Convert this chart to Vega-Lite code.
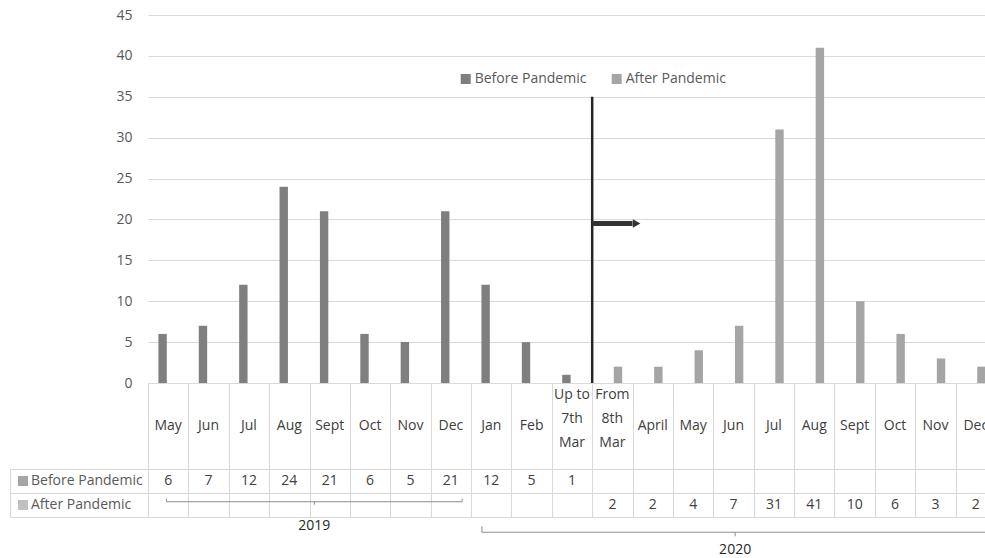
{
  "$schema": "https://vega.github.io/schema/vega-lite/v6.json",
  "background": "white",
  "padding": {"left": 9, "top": 8, "right": 0, "bottom": 0},
  "bounds": "flush",
  "spacing": 0,
  "config": {
    "view": {"stroke": null},
    "font": "Open Sans"
  },
  "data": {
    "values": [
      {"period": "2019-05", "label": "May", "series": "Before Pandemic", "value": 6},
      {"period": "2019-06", "label": "Jun", "series": "Before Pandemic", "value": 7},
      {"period": "2019-07", "label": "Jul", "series": "Before Pandemic", "value": 12},
      {"period": "2019-08", "label": "Aug", "series": "Before Pandemic", "value": 24},
      {"period": "2019-09", "label": "Sept", "series": "Before Pandemic", "value": 21},
      {"period": "2019-10", "label": "Oct", "series": "Before Pandemic", "value": 6},
      {"period": "2019-11", "label": "Nov", "series": "Before Pandemic", "value": 5},
      {"period": "2019-12", "label": "Dec", "series": "Before Pandemic", "value": 21},
      {"period": "2020-01", "label": "Jan", "series": "Before Pandemic", "value": 12},
      {"period": "2020-02", "label": "Feb", "series": "Before Pandemic", "value": 5},
      {"period": "2020-03a", "label": "Up to\n7th\nMar", "series": "Before Pandemic", "value": 1},
      {"period": "2020-03b", "label": "From\n8th\nMar", "series": "After Pandemic", "value": 2},
      {"period": "2020-04", "label": "April", "series": "After Pandemic", "value": 2},
      {"period": "2020-05", "label": "May", "series": "After Pandemic", "value": 4},
      {"period": "2020-06", "label": "Jun", "series": "After Pandemic", "value": 7},
      {"period": "2020-07", "label": "Jul", "series": "After Pandemic", "value": 31},
      {"period": "2020-08", "label": "Aug", "series": "After Pandemic", "value": 41},
      {"period": "2020-09", "label": "Sept", "series": "After Pandemic", "value": 10},
      {"period": "2020-10", "label": "Oct", "series": "After Pandemic", "value": 6},
      {"period": "2020-11", "label": "Nov", "series": "After Pandemic", "value": 3},
      {"period": "2020-12", "label": "Dec", "series": "After Pandemic", "value": 2}
    ]
  },
  "resolve": {
    "scale": {"color": "independent", "fill": "independent"},
    "legend": {"color": "independent", "fill": "independent"}
  },
  "vconcat": [
    {
      "width": 848,
      "height": 368,
      "layer": [
        {
          "mark": {"type": "bar"},
          "encoding": {
            "x": {
              "field": "period", "type": "nominal",
              "scale": {"domain": ["2019-05","2019-06","2019-07","2019-08","2019-09","2019-10","2019-11","2019-12","2020-01","2020-02","2020-03a","2020-03b","2020-04","2020-05","2020-06","2020-07","2020-08","2020-09","2020-10","2020-11","2020-12"], "paddingInner": 0, "paddingOuter": 0},
              "axis": null
            },
            "xOffset": {
              "field": "series", "type": "nominal",
              "scale": {"domain": ["Before Pandemic", "After Pandemic"], "paddingInner": 0.25, "paddingOuter": 0.927}
            },
            "y": {
              "field": "value", "type": "quantitative",
              "scale": {"domain": [0, 45], "nice": false},
              "axis": {
                "values": [0, 5, 10, 15, 20, 25, 30, 35, 40, 45],
                "grid": true, "gridColor": "#d9d9d9", "gridWidth": 1,
                "domain": false, "ticks": false,
                "labelPadding": 16, "labelFontSize": 14, "labelColor": "#595959",
                "title": null
              }
            },
            "color": {
              "field": "series", "type": "nominal",
              "scale": {"domain": ["Before Pandemic", "After Pandemic"], "range": ["#7f7f7f", "#a5a5a5"]},
              "legend": {
                "title": null, "orient": "none", "direction": "horizontal",
                "legendX": 310.7, "legendY": 57,
                "symbolType": "square", "symbolSize": 100, "symbolStrokeWidth": 0,
                "labelFontSize": 14, "labelColor": "#595959",
                "labelOffset": 2, "columnPadding": 23, "padding": 0
              }
            }
          }
        },
        {
          "data": {"values": [{"marker": "8 March 2020"}]},
          "mark": {"type": "rule", "color": "#262626", "strokeWidth": 2.5},
          "encoding": {
            "x": {"datum": "2020-03b", "type": "nominal", "bandPosition": 0},
            "y": {"datum": 35, "type": "quantitative"},
            "y2": {"datum": 0}
          }
        },
        {
          "data": {"values": [{"marker": "8 March 2020"}]},
          "mark": {"type": "rule", "color": "#333333", "strokeWidth": 5},
          "encoding": {
            "x": {"datum": "2020-03b", "type": "nominal", "bandPosition": 0},
            "x2": {"datum": "2020-04", "bandPosition": 0},
            "y": {"datum": 19.5, "type": "quantitative"}
          }
        },
        {
          "data": {"values": [{"marker": "8 March 2020"}]},
          "mark": {"type": "point", "shape": "triangle-right", "filled": true, "color": "#333333", "opacity": 1, "size": 75},
          "encoding": {
            "x": {"datum": "2020-04", "type": "nominal", "bandPosition": 0.1},
            "y": {"datum": 19.5, "type": "quantitative"}
          }
        }
      ]
    },
    {
      "width": 848,
      "height": 86,
      "encoding": {
        "x": {
          "field": "period", "type": "nominal",
          "scale": {"type": "band", "domain": ["2019-05","2019-06","2019-07","2019-08","2019-09","2019-10","2019-11","2019-12","2020-01","2020-02","2020-03a","2020-03b","2020-04","2020-05","2020-06","2020-07","2020-08","2020-09","2020-10","2020-11","2020-12"], "paddingInner": 0, "paddingOuter": 0},
          "axis": {"grid": true, "tickBand": "extent", "gridColor": "#d9d9d9", "labels": false, "ticks": false, "domain": false, "title": null}
        }
      },
      "layer": [
        {
          "transform": [{"filter": "indexof(datum.label, '\\n') < 0"}],
          "mark": {"type": "text", "fontSize": 14, "color": "#404040", "baseline": "middle"},
          "encoding": {"text": {"field": "label"}}
        },
        {
          "transform": [{"filter": "indexof(datum.label, '\\n') >= 0"}],
          "mark": {"type": "text", "fontSize": 14, "color": "#404040", "baseline": "middle", "lineBreak": "\n", "lineHeight": 24, "dy": -31},
          "encoding": {"text": {"field": "label"}}
        }
      ]
    },
    {
      "width": 848,
      "height": 48,
      "encoding": {
        "x": {
          "field": "period", "type": "nominal",
          "scale": {"type": "band", "domain": ["2019-05","2019-06","2019-07","2019-08","2019-09","2019-10","2019-11","2019-12","2020-01","2020-02","2020-03a","2020-03b","2020-04","2020-05","2020-06","2020-07","2020-08","2020-09","2020-10","2020-11","2020-12"], "paddingInner": 0, "paddingOuter": 0},
          "axis": {"grid": true, "tickBand": "extent", "gridColor": "#d9d9d9", "labels": false, "ticks": false, "domain": false, "title": null}
        },
        "y": {
          "field": "series", "type": "nominal",
          "scale": {"type": "band", "domain": ["Before Pandemic", "After Pandemic"], "paddingInner": 0, "paddingOuter": 0},
          "axis": {
            "offset": 138, "tickSize": -138, "tickBand": "extent",
            "grid": true, "gridColor": "#d9d9d9", "tickColor": "#d9d9d9", "domainColor": "#d9d9d9",
            "labels": false, "title": null
          }
        }
      },
      "layer": [
        {
          "mark": {"type": "text", "fontSize": 14, "color": "#404040", "baseline": "middle"},
          "encoding": {"text": {"field": "value", "type": "quantitative"}}
        },
        {
          "mark": {"type": "square", "size": 0},
          "encoding": {
            "fill": {
              "field": "series", "type": "nominal",
              "scale": {"domain": ["Before Pandemic", "After Pandemic"], "range": ["#7f7f7f", "#a5a5a5"]},
              "legend": {
                "title": null, "orient": "none", "direction": "vertical",
                "legendX": -132, "legendY": 5,
                "symbolType": "square", "symbolSize": 100, "symbolStrokeWidth": 0,
                "labelFontSize": 14, "labelColor": "#595959",
                "labelOffset": 1, "rowPadding": 10, "padding": 0
              }
            }
          }
        }
      ]
    },
    {
      "width": 848,
      "height": 40,
      "data": {"values": [{"year": "2019"}, {"year": "2020"}]},
      "layer": [
        {
          "transform": [{"filter": "datum.year == '2019'"}],
          "mark": {"type": "text", "fontSize": 14, "color": "#262626", "baseline": "middle", "dy": 2},
          "encoding": {
            "x": {"datum": "2019-09", "type": "nominal", "bandPosition": 0.12,
                  "scale": {"type": "band", "domain": ["2019-05","2019-06","2019-07","2019-08","2019-09","2019-10","2019-11","2019-12","2020-01","2020-02","2020-03a","2020-03b","2020-04","2020-05","2020-06","2020-07","2020-08","2020-09","2020-10","2020-11","2020-12"], "paddingInner": 0, "paddingOuter": 0},
                  "axis": null},
            "y": {"field": "year", "type": "nominal", "scale": {"type": "point", "domain": ["2019", "2020"], "padding": 0.255}, "axis": null},
            "text": {"field": "year"}
          }
        },
        {
          "transform": [{"filter": "datum.year == '2020'"}],
          "mark": {"type": "text", "fontSize": 14, "color": "#262626", "baseline": "middle", "dy": 0},
          "encoding": {
            "x": {"datum": "2020-06", "type": "nominal", "bandPosition": 0.54},
            "y": {"field": "year", "type": "nominal"},
            "text": {"field": "year"}
          }
        },
        {
          "transform": [{"filter": "datum.year == '2019'"}],
          "mark": {"type": "rule", "color": "#8c8c8c", "strokeWidth": 1, "yOffset": -22},
          "encoding": {
            "x": {"datum": "2019-05", "type": "nominal", "bandPosition": 0.46},
            "x2": {"datum": "2019-12", "bandPosition": 0.78},
            "y": {"field": "year", "type": "nominal"}
          }
        },
        {
          "transform": [{"filter": "datum.year == '2019'"}],
          "mark": {"type": "rule", "color": "#8c8c8c", "strokeWidth": 1, "yOffset": -25, "y2Offset": -22},
          "encoding": {
            "x": {"datum": "2019-05", "type": "nominal", "bandPosition": 0.46},
            "y": {"field": "year", "type": "nominal"},
            "y2": {"field": "year"}
          }
        },
        {
          "transform": [{"filter": "datum.year == '2019'"}],
          "mark": {"type": "rule", "color": "#8c8c8c", "strokeWidth": 1, "yOffset": -25, "y2Offset": -22},
          "encoding": {
            "x": {"datum": "2019-12", "type": "nominal", "bandPosition": 0.78},
            "y": {"field": "year", "type": "nominal"},
            "y2": {"field": "year"}
          }
        },
        {
          "transform": [{"filter": "datum.year == '2019'"}],
          "mark": {"type": "rule", "color": "#8c8c8c", "strokeWidth": 1, "yOffset": -22, "y2Offset": -19},
          "encoding": {
            "x": {"datum": "2019-09", "type": "nominal", "bandPosition": 0.12},
            "y": {"field": "year", "type": "nominal"},
            "y2": {"field": "year"}
          }
        },
        {
          "transform": [{"filter": "datum.year == '2020'"}],
          "mark": {"type": "rule", "color": "#8c8c8c", "strokeWidth": 1, "yOffset": -18},
          "encoding": {
            "x": {"datum": "2020-01", "type": "nominal", "bandPosition": 0.27},
            "x2": {"datum": "2020-12", "bandPosition": 0.82},
            "y": {"field": "year", "type": "nominal"}
          }
        },
        {
          "transform": [{"filter": "datum.year == '2020'"}],
          "mark": {"type": "rule", "color": "#8c8c8c", "strokeWidth": 1, "yOffset": -24, "y2Offset": -18},
          "encoding": {
            "x": {"datum": "2020-01", "type": "nominal", "bandPosition": 0.27},
            "y": {"field": "year", "type": "nominal"},
            "y2": {"field": "year"}
          }
        },
        {
          "transform": [{"filter": "datum.year == '2020'"}],
          "mark": {"type": "rule", "color": "#8c8c8c", "strokeWidth": 1, "yOffset": -18, "y2Offset": -14},
          "encoding": {
            "x": {"datum": "2020-06", "type": "nominal", "bandPosition": 0.54},
            "y": {"field": "year", "type": "nominal"},
            "y2": {"field": "year"}
          }
        }
      ]
    }
  ]
}
